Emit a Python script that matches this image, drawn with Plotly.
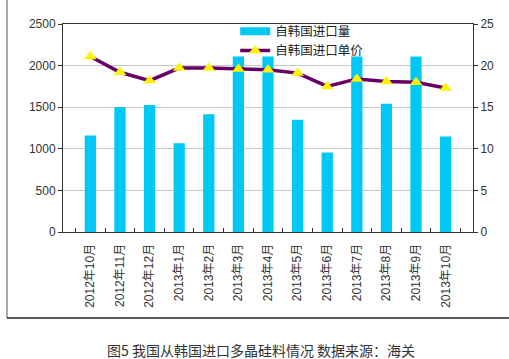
import plotly.graph_objects as go

categories = ["2012年10月", "2012年11月", "2012年12月", "2013年1月", "2013年2月", "2013年3月",
              "2013年4月", "2013年5月", "2013年6月", "2013年7月", "2013年8月", "2013年9月", "2013年10月"]
volume = [1160, 1500, 1525, 1067, 1416, 2110, 2110, 1348, 955, 2110, 1540, 2110, 1147]
price = [21.1, 19.2, 18.2, 19.7, 19.7, 19.6, 19.5, 19.1, 17.5, 18.4, 18.1, 18.0, 17.3]

FONT = "Liberation Sans, Noto Sans CJK SC, sans-serif"
BLUE = "#00C8F5"

fig = go.Figure()
fig.add_trace(go.Bar(x=categories, y=volume, name="自韩国进口量", showlegend=False,
                     marker=dict(color=BLUE, line=dict(width=0))))
# legend swatch for the bars (wide bar-like symbol)
fig.add_trace(go.Scatter(x=[None], y=[None], name="自韩国进口量", mode="lines",
                         line=dict(color=BLUE, width=8), showlegend=True))
fig.add_trace(go.Scatter(x=categories, y=price, name="自韩国进口单价", yaxis="y2",
                         mode="lines+markers",
                         line=dict(color="#660066", width=3.5),
                         marker=dict(symbol="triangle-up", size=11, color="#FFF200",
                                     line=dict(width=0))))

fig.update_layout(
    width=509, height=359,
    margin=dict(l=63, r=36, t=24, b=127),
    paper_bgcolor="white", plot_bgcolor="white",
    font=dict(family=FONT, size=12, color="#333333"),
    bargap=0.62,
    showlegend=True,
    legend=dict(x=0.42, y=1.035, xanchor="left", yanchor="top",
                bgcolor="rgba(255,255,255,0)", font=dict(size=12.5, color="#222222"),
                tracegroupgap=0, itemwidth=30),
    xaxis=dict(type="category", tickangle=-90, showgrid=False, showline=True,
               linecolor="#333333", linewidth=1, mirror=True,
               ticks="inside", tickson="boundaries", ticklen=4, tickcolor="#333333",
               ticklabelstandoff=6,
               tickfont=dict(size=12, color="#333333")),
    yaxis=dict(range=[0, 2500], dtick=500, showgrid=True, gridcolor="#C8C8C8",
               gridwidth=1, showline=True, linecolor="#333333", linewidth=1,
               ticks="outside", ticklen=4, tickcolor="#333333", zeroline=False,
               tickfont=dict(size=12, color="#333333")),
    yaxis2=dict(range=[0, 25], dtick=5, overlaying="y", side="right", showgrid=False,
                showline=True, linecolor="#333333", linewidth=1, ticks="outside",
                ticklen=4, tickcolor="#333333", zeroline=False,
                tickfont=dict(size=12, color="#333333")),
)

fig.add_shape(type="line", xref="paper", yref="paper", x0=-0.1366, x1=-0.1366, y0=1.12, y1=-0.413,
              line=dict(color="#555555", width=1))
fig.add_shape(type="line", xref="paper", yref="paper", x0=-0.1366, x1=1.1, y0=-0.413, y1=-0.413,
              line=dict(color="#222222", width=1.5))

fig.add_annotation(text="图5 我国从韩国进口多晶硅料情况 数据来源：海关", xref="paper", yref="paper",
                   x=0.483, y=-0.567, xanchor="center", yanchor="middle", showarrow=False,
                   font=dict(size=14, color="#333333", family="Noto Sans CJK SC"))

fig.write_html("out.html", config={"displayModeBar": False},
               post_script="document.body.style.margin='0';")
